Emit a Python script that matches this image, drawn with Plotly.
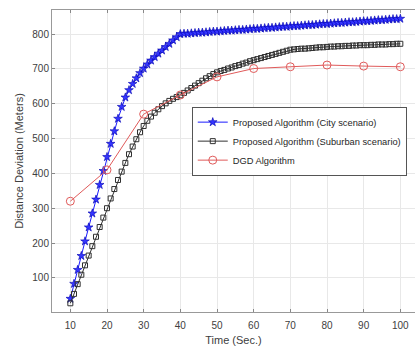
import plotly.graph_objects as go

time_dense = list(range(10, 101))
city = [40, 83, 123, 163, 205, 245, 285, 325, 367, 407,
        447, 485, 521, 557, 591, 618, 639, 657, 673, 688,
        701, 713, 724, 734, 744, 753, 763, 772, 782, 791,
        800, 801, 801, 802, 803, 804, 804, 805, 806, 807,
        807, 808, 809, 810, 810, 811, 812, 812, 813, 814,
        815, 815, 816, 817, 818, 818, 819, 820, 821, 821,
        822, 823, 823, 824, 825, 826, 826, 827, 828, 829,
        829, 830, 831, 832, 832, 833, 834, 834, 835, 836,
        837, 837, 838, 839, 840, 840, 841, 842, 843, 843,
        844]
suburban = [27, 54, 82, 109, 136, 164, 191, 218, 246, 273,
            300, 328, 355, 381, 405, 430, 455, 477, 498, 518,
            536, 551, 563, 574, 584, 593, 601, 608, 614, 619,
            624, 631, 638, 645, 652, 659, 666, 673, 679, 685,
            690, 694, 697, 701, 704, 708, 711, 715, 718, 722,
            725, 728, 731, 734, 737, 740, 743, 746, 749, 752,
            755, 756, 757, 758, 758, 759, 760, 761, 762, 762,
            763, 764, 764, 765, 765, 766, 766, 767, 767, 768,
            768, 768, 769, 769, 770, 770, 770, 771, 771, 772,
            772]
time_dgd = [10, 20, 30, 40, 50, 60, 70, 80, 90, 100]
dgd = [320, 410, 570, 625, 677, 701, 706, 711, 708, 706]

x_ticks = [10, 20, 30, 40, 50, 60, 70, 80, 90, 100]
y_ticks = [100, 200, 300, 400, 500, 600, 700, 800]

FONT = "Liberation Sans, Arial, sans-serif"
TXT = "#404040"

fig = go.Figure()
fig.add_trace(go.Scatter(
    x=time_dense, y=city, mode="lines+markers",
    name="Proposed Algorithm (City scenario)",
    line=dict(color="#1a1aff", width=1),
    marker=dict(symbol="star", size=6.5, color="#3535ff",
                line=dict(color="#0000b0", width=0.6)),
))
fig.add_trace(go.Scatter(
    x=time_dense, y=suburban, mode="lines+markers",
    name="Proposed Algorithm (Suburban scenario)",
    line=dict(color="#303030", width=1),
    marker=dict(symbol="square-open", size=5, color="#303030",
                line=dict(width=1)),
))
fig.add_trace(go.Scatter(
    x=time_dgd, y=dgd, mode="lines+markers",
    name="DGD Algorithm",
    line=dict(color="#e05a5a", width=1),
    marker=dict(symbol="circle-open", size=8, color="#e05a5a",
                line=dict(width=1)),
))

fig.update_layout(
    width=415, height=347,
    margin=dict(l=52, r=0, t=10, b=35, autoexpand=False),
    paper_bgcolor="white", plot_bgcolor="white",
    font=dict(family=FONT, size=10, color=TXT),
    showlegend=True,
    legend=dict(
        x=0.385, y=0.68, xanchor="left", yanchor="top",
        bgcolor="white", bordercolor="#555555", borderwidth=1,
        font=dict(family=FONT, size=9.3, color="#262626"),
        itemwidth=30, tracegroupgap=0,
    ),
    xaxis=dict(
        range=[5, 104], tickvals=x_ticks, automargin=False,
        ticks="inside", ticklen=3, tickcolor="#888888",
        showline=True, linecolor="#999999", linewidth=1, mirror="ticks",
        showgrid=True, gridcolor="#e8e8e8", gridwidth=1,
        zeroline=False, ticklabelstandoff=4,
        tickfont=dict(size=10, color=TXT),
        title=dict(text="Time (Sec.)", font=dict(size=11, color=TXT), standoff=6),
    ),
    yaxis=dict(
        range=[2, 869], tickvals=y_ticks, automargin=False,
        ticks="inside", ticklen=3, tickcolor="#888888",
        showline=True, linecolor="#999999", linewidth=1, mirror=False,
        showgrid=True, gridcolor="#e8e8e8", gridwidth=1,
        zeroline=False,
        tickfont=dict(size=10, color=TXT),
        title=dict(text="Distance Deviation (Meters)", font=dict(size=11, color=TXT), standoff=6),
    ),
)

fig.write_html("out.html")
